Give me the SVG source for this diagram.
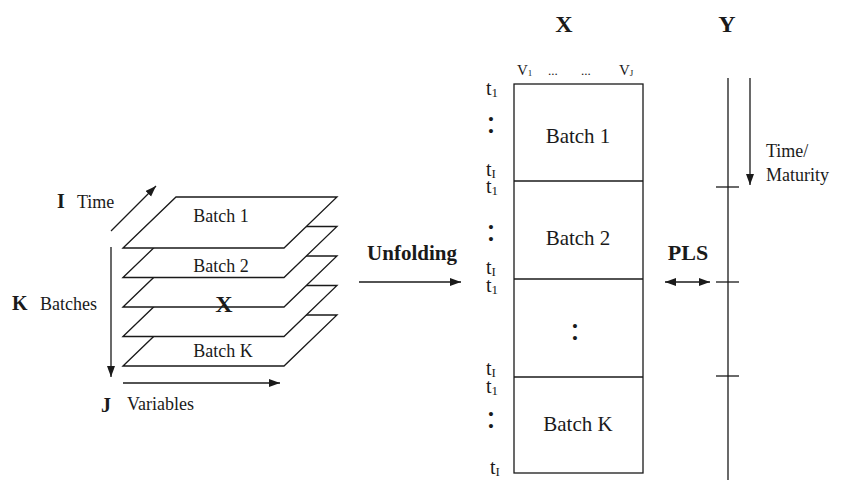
<svg xmlns="http://www.w3.org/2000/svg" width="843" height="482" viewBox="0 0 843 482">
  <style>
    text { font-family: "Liberation Serif", "Times New Roman", serif; fill: #1a1a1a; }
    .b { font-weight: bold; }
    .ln { stroke: #1a1a1a; stroke-width: 1.3; fill: none; }
    .layer { stroke: #1a1a1a; stroke-width: 1.3; fill: #ffffff; stroke-linejoin: miter; }
    .mid { text-anchor: middle; }
    .t { font-size: 20px; }
    .sub { font-size: 13px; }
    .dots { font-size: 34px; text-anchor: middle; }
  </style>
  <defs>
    <marker id="ah" markerUnits="userSpaceOnUse" markerWidth="12" markerHeight="9" refX="11" refY="4" orient="auto">
      <path d="M0,0 L11,4 L0,8 z" fill="#1a1a1a"/>
    </marker>
    <marker id="ahs" markerUnits="userSpaceOnUse" markerWidth="12" markerHeight="9" refX="0" refY="4" orient="auto">
      <path d="M11,0 L0,4 L11,8 z" fill="#1a1a1a"/>
    </marker>
  </defs>

  <rect width="843" height="482" fill="#ffffff"/>

  <!-- Three-way batch array: stacked slices, drawn back to front -->
  <g id="batch-stack">
    <polygon class="layer" points="123,366 176,315 337,315 284,366"/>
    <polygon class="layer" points="123,336.5 176,285.5 337,285.5 284,336.5"/>
    <polygon class="layer" points="123,307 176,256 337,256 284,307"/>
    <polygon class="layer" points="123,277.5 176,226.5 337,226.5 284,277.5"/>
    <polygon class="layer" points="123,248 176,197 337,197 284,248"/>
    <text x="221" y="222" font-size="18" class="mid">Batch 1</text>
    <text x="221" y="272" font-size="18" class="mid">Batch 2</text>
    <text x="224" y="312" font-size="24" class="mid b">X</text>
    <text x="223" y="357" font-size="18" class="mid">Batch K</text>
  </g>

  <!-- Axis labels of the batch array -->
  <g id="axis-labels">
    <text x="57" y="208" font-size="20" class="b">I</text>
    <text x="77" y="208" font-size="18">Time</text>
    <text x="12" y="310" font-size="20" class="b">K</text>
    <text x="40" y="310" font-size="18">Batches</text>
    <text x="101" y="412" font-size="20" class="b">J</text>
    <text x="127" y="410" font-size="18">Variables</text>
  </g>

  <!-- Unfolded matrix X -->
  <g id="matrix-x">
    <text x="564" y="32" font-size="24" class="mid b">X</text>
    <rect class="ln" x="514" y="84" width="129" height="389"/>
    <line class="ln" x1="514" y1="181" x2="643" y2="181"/>
    <line class="ln" x1="514" y1="279" x2="643" y2="279"/>
    <line class="ln" x1="514" y1="377" x2="643" y2="377"/>
    <text x="517" y="75" font-size="15">V<tspan font-size="9" dy="1">1</tspan></text>
    <text x="548" y="75" font-size="13">...</text>
    <text x="581" y="75" font-size="13">...</text>
    <text x="619" y="75" font-size="15">V<tspan font-size="9" dy="1">J</tspan></text>
    <text x="578" y="143" font-size="21" class="mid">Batch 1</text>
    <text x="578" y="245" font-size="21" class="mid">Batch 2</text>
    <text x="575" y="340" class="dots">:</text>
    <text x="578" y="431" font-size="21" class="mid">Batch K</text>
  </g>

  <!-- Row labels of the unfolded matrix -->
  <g id="row-labels">
    <text x="486" y="95" class="t">t<tspan class="sub" dy="2">1</tspan></text>
    <text x="491" y="133" class="dots">:</text>
    <text x="486" y="176" class="t">t<tspan class="sub" dy="2">I</tspan></text>
    <text x="486" y="193" class="t">t<tspan class="sub" dy="2">1</tspan></text>
    <text x="491" y="241" class="dots">:</text>
    <text x="486" y="274" class="t">t<tspan class="sub" dy="2">I</tspan></text>
    <text x="486" y="292" class="t">t<tspan class="sub" dy="2">1</tspan></text>
    <text x="486" y="375" class="t">t<tspan class="sub" dy="2">I</tspan></text>
    <text x="486" y="393" class="t">t<tspan class="sub" dy="2">1</tspan></text>
    <text x="491" y="428" class="dots">:</text>
    <text x="490" y="474" class="t">t<tspan class="sub" dy="2">I</tspan></text>
  </g>

  <!-- Response axis Y -->
  <g id="axis-y">
    <text x="727" y="32" font-size="24" class="mid b">Y</text>
    <line class="ln" x1="728" y1="78" x2="728" y2="480"/>
    <line class="ln" x1="716" y1="187" x2="739" y2="187"/>
    <line class="ln" x1="716" y1="282" x2="739" y2="282"/>
    <line class="ln" x1="716" y1="376" x2="739" y2="376"/>
    <text x="766" y="157" font-size="18">Time/</text>
    <text x="766" y="181" font-size="18">Maturity</text>
  </g>

  <!-- Labels on the connectors -->
  <g id="connector-labels">
    <text x="412" y="260" font-size="21" class="mid b">Unfolding</text>
    <text x="688" y="260" font-size="22" class="mid b">PLS</text>
  </g>

  <!-- Connectors and direction arrows -->
  <g id="connectors">
    <line class="ln" x1="111" y1="231" x2="156" y2="186" marker-end="url(#ah)"/>
    <line class="ln" x1="111" y1="247" x2="111" y2="377" marker-end="url(#ah)"/>
    <line class="ln" x1="123" y1="383" x2="280" y2="383" marker-end="url(#ah)"/>
    <line class="ln" x1="359" y1="282" x2="461" y2="282" marker-end="url(#ah)"/>
    <line class="ln" x1="665" y1="282" x2="710" y2="282" marker-start="url(#ahs)" marker-end="url(#ah)"/>
    <line class="ln" x1="750" y1="78" x2="750" y2="185" marker-end="url(#ah)"/>
  </g>
</svg>
